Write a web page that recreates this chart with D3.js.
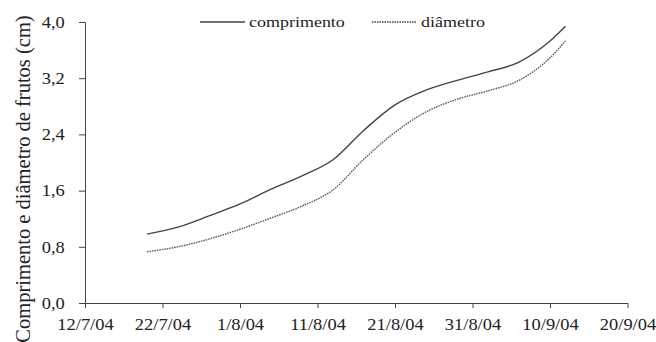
<!DOCTYPE html>
<html>
<head>
<meta charset="utf-8">
<script src="https://cdn.jsdelivr.net/npm/d3@7"></script>
<style>
  body { margin: 0; background: #fff; }
  text { font-family: "Liberation Serif", "Times New Roman", serif; fill: #222; }
</style>
</head>
<body>
<div id="chart"></div>
<script>
// values
var dates = ["20/7/04", "24/7/04", "28/7/04", "1/8/04", "5/8/04", "9/8/04", "13/8/04", "17/8/04",
             "21/8/04", "25/8/04", "29/8/04", "2/9/04", "6/9/04", "10/9/04", "12/9/04"];
var comprimento = [0.98, 1.08, 1.24, 1.41, 1.62, 1.81, 2.04, 2.46, 2.82, 3.03, 3.17, 3.29, 3.43, 3.73, 3.94];
var diametro    = [0.73, 0.80, 0.91, 1.05, 1.21, 1.38, 1.61, 2.05, 2.43, 2.72, 2.90, 3.02, 3.17, 3.49, 3.73];
var xTicks = ["12/7/04", "22/7/04", "1/8/04", "11/8/04", "21/8/04", "31/8/04", "10/9/04", "20/9/04"];
var yTicks = [0, 0.8, 1.6, 2.4, 3.2, 4.0];
var seriesNames = ["comprimento", "diâmetro"];

var width = 656, height = 342;
var plotLeft = 85, plotRight = 627.5, plotTop = 22, plotBottom = 303;

var parse = d3.timeParse("%d/%m/%y");

var x = d3.scaleTime()
  .domain([parse(xTicks[0]), parse(xTicks[xTicks.length - 1])])
  .range([plotLeft, plotRight]);

var y = d3.scaleLinear()
  .domain([0, 4])
  .range([plotBottom, plotTop]);

var svg = d3.select("#chart").append("svg")
  .attr("width", width)
  .attr("height", height);

var xAxis = svg.append("g")
  .attr("transform", "translate(0," + plotBottom + ")")
  .call(d3.axisBottom(x)
          .tickValues(xTicks.map(parse))
          .tickFormat((d, i) => xTicks[i])
          .tickSize(5)
          .tickSizeOuter(0)
          .tickPadding(10));

var yAxis = svg.append("g")
  .attr("transform", "translate(" + plotLeft + ",0)")
  .call(d3.axisLeft(y)
          .tickValues(yTicks)
          .tickFormat(d => d3.format(".1f")(d).replace(".", ","))
          .tickSize(6)
          .tickSizeOuter(0)
          .tickPadding(12));

svg.selectAll(".domain, .tick line").attr("stroke", "#444");
xAxis.selectAll("text").attr("font-size", 16.5).attr("fill", "#222")
  .attr("transform", "scale(1.12,1)");
yAxis.selectAll("text").attr("font-size", 16.5).attr("fill", "#222")
  .attr("transform", "scale(1.12,1)");

// y axis title
svg.append("text")
  .attr("transform", "translate(30,179) rotate(-90)")
  .attr("text-anchor", "middle")
  .attr("font-size", 20.5)
  .text("Comprimento e diâmetro de frutos (cm)");

var line = d3.line()
  .x((d, i) => x(parse(dates[i])))
  .y(d => y(d))
  .curve(d3.curveMonotoneX);

svg.append("path")
  .datum(comprimento)
  .attr("fill", "none")
  .attr("stroke", "#444")
  .attr("stroke-width", 1.4)
  .attr("d", line);

svg.append("path")
  .datum(diametro)
  .attr("fill", "none")
  .attr("stroke", "#555")
  .attr("stroke-width", 1.4)
  .attr("stroke-dasharray", "1.5,1")
  .attr("d", line);

// legend
var legend = [
  { name: seriesNames[0], x: 200, dash: null },
  { name: seriesNames[1], x: 372, dash: "1.5,1" }
];
legend.forEach(function (l) {
  svg.append("line")
    .attr("x1", l.x).attr("x2", l.x + 45)
    .attr("y1", 22).attr("y2", 22)
    .attr("stroke", "#444")
    .attr("stroke-width", 1.3)
    .attr("stroke-dasharray", l.dash);
  svg.append("text")
    .attr("transform", "translate(" + (l.x + 49) + ",27) scale(1.2,1)")
    .attr("font-size", 15)
    .text(l.name);
});
</script>
</body>
</html>
